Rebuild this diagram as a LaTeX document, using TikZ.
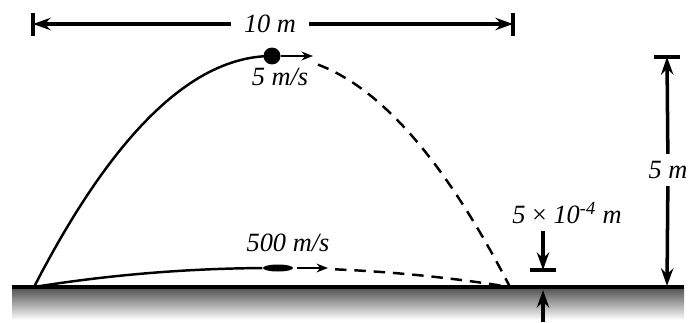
\documentclass[tikz,border=0pt]{standalone}
\usepackage{fontspec}
\setmainfont{Liberation Serif}
\usetikzlibrary{arrows.meta,shapes.geometric}
\tikzset{
  lbl/.style={font=\fontsize{15}{17}\selectfont\itshape,inner sep=4pt},
  traj/.style={line width=1.4pt},
  fly/.style={traj,dash pattern=on 6.5pt off 4.5pt},
  dim/.style={line width=2pt,->},
  bar/.style={line width=2.3pt},
  vel/.style={line width=1.4pt,-{Stealth[length=6.5pt,width=5pt]}},
}
\begin{document}
\begin{tikzpicture}[x=0.02cm,y=0.02cm,>={Stealth[length=10pt,width=7pt]}]
\useasboundingbox (0,0) rectangle (689,322);
\shade[top color=black!70,bottom color=white] (12,35) rectangle (684,2);
\draw[line width=2pt] (12,35) -- (684,35);
\draw[traj,domain=-1:0,samples=50,variable=\t] plot ({272+238*\t},{35+231*(1-\t*\t)});
\draw[fly,domain=0.193:1,samples=50,variable=\t] plot ({272+238*\t},{35+231*(1-\t*\t)});
\draw[traj,domain=-1:-0.04,samples=50,variable=\t] plot ({272+238*\t},{35+19*(1-\t*\t)});
\draw[fly,domain=0.265:1,samples=40,variable=\t] plot ({272+238*\t},{35+19*(1-\t*\t)});
\node[circle,fill,inner sep=0pt,minimum size=0.34cm] (ball) at (272,266) {};
\coordinate (ballv) at (313,266);
\draw[vel] (ball) -- (ballv);
\node[lbl] (vslow) at (280,245) {5 m/s};
\node[ellipse,fill,inner sep=0pt,minimum width=0.6cm,minimum height=0.14cm] (bullet) at (278,54) {};
\coordinate (bulletv) at (328,54);
\draw[vel,shorten <=2pt] (bullet) -- (bulletv);
\node[lbl] (vfast) at (288,79) {500 m/s};
\node[lbl] (w) at (270,298) {10 m};
\coordinate (wl) at (33,298);
\coordinate (wr) at (513,298);
\draw[dim,shorten <=3pt] (w) -- (wl);
\draw[dim,shorten <=3pt] (w) -- (wr);
\draw[bar] (33,309) -- (33,286);
\draw[bar] (513,309) -- (513,286);
\node[lbl] (h) at (668,152) {5 m};
\coordinate (ht) at (667,265);
\coordinate (hb) at (667,36);
\draw[dim] (h) -- (ht);
\draw[dim] (h) -- (hb);
\draw[bar] (654,265) -- (680,265);
\node[lbl] (g) at (567,109) {5 {\upshape×} 10\textsuperscript{-4} m};
\coordinate (gt) at (543,52);
\coordinate (gb) at (543,0);
\coordinate (gg) at (543,32);
\draw[dim] (g.south -| gt) -- (gt);
\draw[bar] (530,52) -- (556,52);
\draw[dim] (gb) -- (gg);
\end{tikzpicture}
\end{document}
